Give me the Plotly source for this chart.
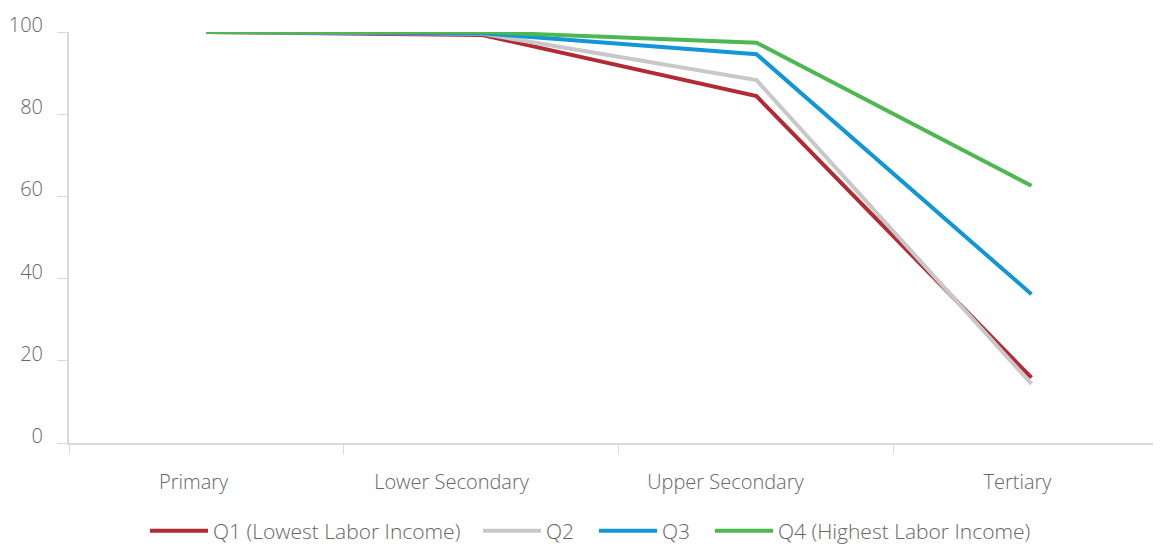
import plotly.graph_objects as go

categories = ["Primary", "Lower Secondary", "Upper Secondary", "Tertiary"]
q1 = [100, 99.3, 84.4, 15.9]
q2 = [100, 99.6, 88.3, 14.4]
q3 = [100, 99.7, 94.6, 36.2]
q4 = [100, 100.0, 97.4, 62.6]
names = ["Q1 (Lowest Labor Income)", "Q2", "Q3", "Q4 (Highest Labor Income)"]
colors = ["#b22a33", "#c8c8c8", "#1297d6", "#4db851"]
y_ticks = [0, 20, 40, 60, 80, 100]
label_pos = [-0.047, 0.891, 1.887, 2.949]      # where the category labels sit
legend_left_px = [145, 478, 594, 710]          # page x of each legend entry

W, H = 1153, 537
fig = go.Figure()
legend_ids = ["legend", "legend2", "legend3", "legend4"]
for name, vals, col, lid in zip(names, [q1, q2, q3, q4], colors, legend_ids):
    fig.add_trace(go.Scatter(x=categories, y=vals, name=name, mode="lines",
                             line=dict(color=col, width=4), legend=lid))
fig.add_trace(go.Scatter(x=[], y=[], xaxis="x2", showlegend=False,
                         hoverinfo="skip"))

fam = "Open Sans, Noto Sans, sans-serif"
tf = dict(family=fam, size=20, color="#666666", weight=300)
lf = dict(family=fam, size=21, color="#666666")

legends = {}
for lid, px in zip(legend_ids, legend_left_px):
    legends[lid] = dict(orientation="h", xref="container", yref="container",
                        x=(px - 8) / W, xanchor="left", y=0.026,
                        yanchor="middle", font=lf, itemwidth=58,
                        bgcolor="rgba(0,0,0,0)")

fig.update_layout(
    width=W, height=H,
    margin=dict(l=61, r=0, t=24, b=102, autoexpand=False),
    paper_bgcolor="white", plot_bgcolor="white",
    font=tf,
    showlegend=True,
    **legends,
    xaxis=dict(type="category", range=[-0.5, 3.471], showgrid=False,
               showline=True, linecolor="#d9d9d9", linewidth=2,
               ticks="outside", ticklen=9, tickcolor="#d9d9d9",
               tickson="boundaries", showticklabels=False, automargin=False,
               zeroline=False),
    xaxis2=dict(overlaying="x", anchor="y", side="bottom", type="linear",
                range=[-0.5, 3.471], tickvals=label_pos, ticktext=categories,
                showgrid=False, showline=False, ticks="", zeroline=False,
                ticklabelstandoff=25, automargin=False, tickfont=tf),
    yaxis=dict(range=[0, 100], tickvals=y_ticks, showgrid=False,
               showline=True, linecolor="#d9d9d9", linewidth=2,
               ticks="outside", ticklen=10, tickcolor="#d9d9d9",
               ticklabelstandoff=10, ticklabelshift=-7, zeroline=False,
               automargin=False, tickfont=tf),
)
fig.write_html("out.html")
